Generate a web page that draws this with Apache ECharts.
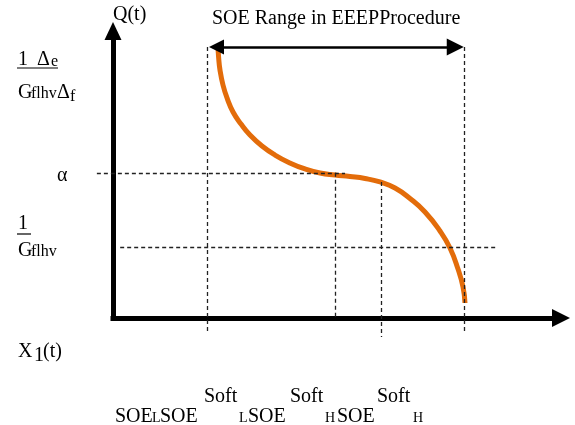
<!DOCTYPE html>
<html>
<head>
<meta charset="utf-8">
<script src="https://cdn.jsdelivr.net/npm/echarts@6/dist/echarts.min.js"></script>
<style>
  html, body { margin: 0; padding: 0; background: #fff; }
  #chart { width: 575px; height: 425px; }
</style>
</head>
<body>
<div id="chart"></div>
<script>
// Q(t) against SOE (both axes in 0..100 units)
const curveX = [23.44, 23.57, 23.88, 24.55, 25.45, 26.79, 28.57, 30.58, 33.26, 36.16, 39.51, 42.86, 46.21, 49.55, 52.90, 56.25, 59.60, 62.95, 66.29, 69.64, 72.99, 75.22, 77.01, 78.13, 78.57];
const curveY = [94.43, 90.94, 86.41, 81.18, 76.66, 71.78, 67.60, 63.76, 59.93, 56.79, 54.01, 51.92, 50.52, 49.83, 49.30, 48.61, 47.39, 45.30, 41.64, 36.93, 30.31, 24.39, 17.07, 10.80, 5.23];

// dashed vertical guides: SOE_L, Soft SOE_L, Soft SOE_H, SOE_H
const guideX = [21.0, 49.6, 59.8, 78.3];
const guideTop = [94.4, 50.6, 47.4, 94.4];
const guideBottom = [-5.2, 0, -6.6, -5.2];

// dashed horizontal levels: alpha, 1/Gflhv
const levelY = [50.6, 24.5];
const levelFrom = [-3.6, 1.6];
const levelTo = [51.8, 85.7];

// "SOE Range" double arrow
const rangeX = [23.1, 76.4];
const rangeY = 94.4;

// text pieces: [text, left, baseline, size]
const labels = [
  ["SOE Range in EEEPProcedure", 212, 25, 20],
  ["Q(t)", 113, 21, 20],
  ["1", 18, 66, 20], ["Δ", 37, 66, 20], ["e", 51, 67, 16],
  ["G", 18, 99, 20], ["flhv", 31, 99, 16], ["Δ", 57, 99, 20], ["f", 70, 102, 16],
  ["α", 57, 182, 20],
  ["1", 18, 230, 20],
  ["G", 18, 257, 20], ["flhv", 31, 257, 16],
  ["X", 18, 358, 20], ["1", 34, 362, 20], ["(t)", 43, 358, 20],
  ["Soft", 204, 403, 20], ["Soft", 290, 403, 20], ["Soft", 377, 403, 20],
  ["SOE", 115, 423, 20], ["L", 152, 423, 14], ["SOE", 160, 423, 20],
  ["L", 239, 423, 14], ["SOE", 248, 423, 20],
  ["H", 325, 423, 14], ["SOE", 337, 423, 20],
  ["H", 413, 423, 14]
];
// fraction bars under the left labels: [x1, x2, y]
const bars = [[17, 58, 68], [17, 31, 234]];

const chart = echarts.init(document.getElementById("chart"));

const dashed = { color: "#222", width: 1.3, type: [4, 3], opacity: 1 };
const guides = guideX.map((x, i) => ({ coords: [[x, guideTop[i]], [x, guideBottom[i]]] }))
  .concat(levelY.map((y, i) => ({ coords: [[levelFrom[i], y], [levelTo[i], y]] })));

const series = [{
  type: "line",
  data: curveX.map((x, i) => [x, curveY[i]]),
  smooth: true,
  showSymbol: false,
  clip: false,
  silent: true,
  z: 2,
  lineStyle: { color: "#E36C0A", width: 5 },
}, {
  type: "lines",
  coordinateSystem: "cartesian2d",
  clip: false,
  silent: true,
  z: 3,
  lineStyle: dashed,
  data: guides,
}, {
  type: "lines",
  coordinateSystem: "cartesian2d",
  symbol: ["triangle", "triangle"],
  symbolSize: [15, 17],
  silent: true,
  z: 4,
  lineStyle: { color: "#000", width: 2.5, opacity: 1 },
  data: [{ coords: [[rangeX[0], rangeY], [rangeX[1], rangeY]] }],
}];

const axis = (size) => ({
  type: "value",
  min: 0,
  max: 100,
  axisLine: {
    show: true,
    onZero: false,
    symbol: ["none", "triangle"],
    symbolSize: size,
    lineStyle: { color: "#000", width: 5, cap: "square" },
  },
  axisTick: { show: false },
  axisLabel: { show: false },
  splitLine: { show: false },
});

const graphic = labels.map(([text, x, base, size]) => ({
  type: "text",
  x: x,
  y: base - size * 0.3375,
  silent: true,
  style: {
    text: text,
    font: `${size}px "Liberation Serif"`,
    fill: "#000",
    verticalAlign: "middle",
  },
})).concat(bars.map(([x1, x2, y]) => ({
  type: "line",
  silent: true,
  shape: { x1: x1, y1: y, x2: x2, y2: y },
  style: { stroke: "#000", lineWidth: 1.2 },
})));

chart.setOption({
  animation: false,
  backgroundColor: "#fff",
  grid: { left: 113, right: 14, top: 31, bottom: 107 },
  xAxis: axis([18, 18]),
  yAxis: axis([17, 18]),
  series: series,
  graphic: graphic,
});
</script>
</body>
</html>
